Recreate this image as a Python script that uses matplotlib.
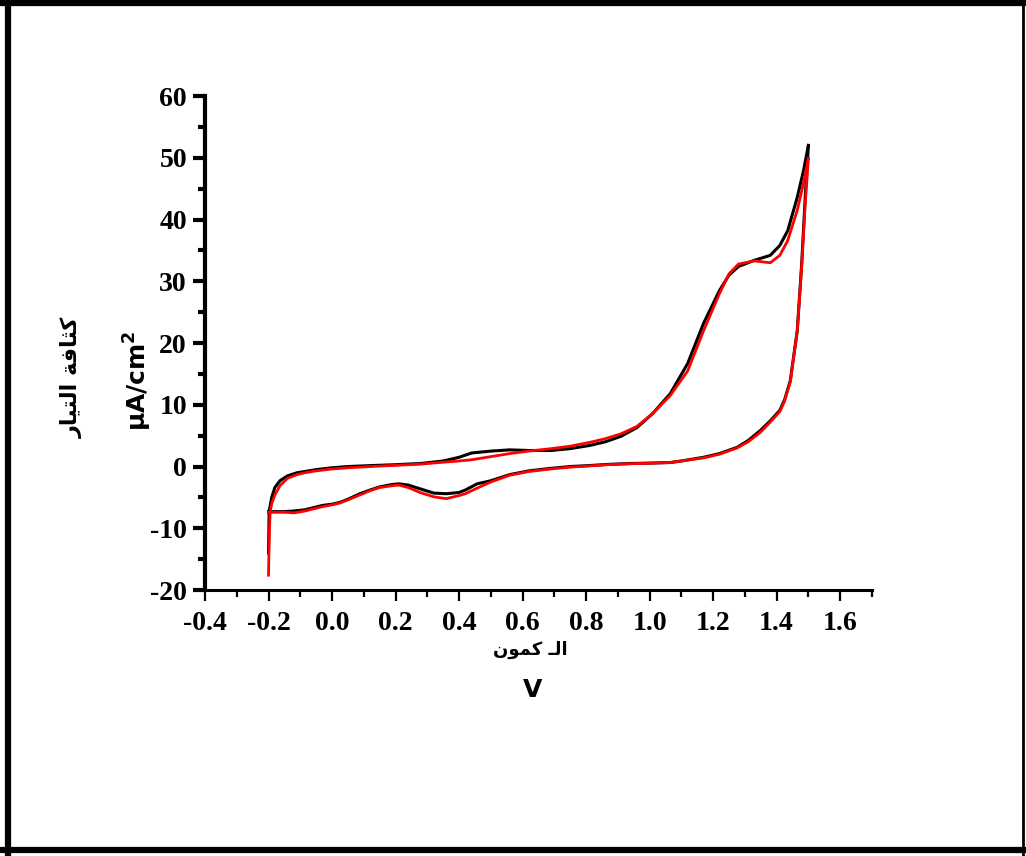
import matplotlib.pyplot as plt
from matplotlib.lines import Line2D
from matplotlib.ticker import MultipleLocator
from matplotlib.font_manager import FontProperties

plt.rcParams['mathtext.fontset'] = 'custom'
plt.rcParams['mathtext.bf'] = 'DejaVu Sans:bold'
plt.rcParams['axes.unicode_minus'] = False

# black cycle: forward (anodic) scan -0.2 -> 1.5 V
v_black_fwd = [-0.2, -0.198, -0.19, -0.18, -0.164, -0.14, -0.11, -0.085, -0.05, 0.0,
               0.05, 0.12, 0.2, 0.28, 0.35, 0.40, 0.44, 0.50, 0.56, 0.62,
               0.69, 0.75, 0.81, 0.86, 0.91, 0.96, 1.01, 1.065, 1.12, 1.17,
               1.22, 1.25, 1.28, 1.33, 1.38, 1.41, 1.435, 1.465, 1.485, 1.5]
i_black_fwd = [-14, -7.3, -5.0, -3.4, -2.3, -1.5, -1.0, -0.8, -0.5, -0.2,
               0.0, 0.15, 0.3, 0.5, 0.9, 1.5, 2.2, 2.5, 2.7, 2.6,
               2.6, 2.9, 3.4, 4.0, 4.9, 6.3, 8.6, 11.8, 16.7, 23.2,
               28.5, 31.0, 32.4, 33.4, 34.2, 35.8, 38.2, 43.6, 48.0, 52.0]
# black cycle: reverse scan 1.5 -> -0.2 V
v_black_rev = [1.5, 1.49, 1.479, 1.465, 1.443, 1.425, 1.41, 1.38, 1.348, 1.31,
               1.275, 1.22, 1.17, 1.10, 1.065, 1.0, 0.94, 0.87, 0.81, 0.75,
               0.687, 0.62, 0.56, 0.50, 0.457, 0.42, 0.40, 0.36, 0.32, 0.277,
               0.24, 0.21, 0.19, 0.15, 0.12, 0.088, 0.05, 0.025, 0.0, -0.03,
               -0.054, -0.085, -0.12, -0.15, -0.2]
i_black_rev = [52, 43.6, 32.9, 22, 13.9, 10.8, 9.1, 7.4, 5.8, 4.2,
               3.1, 2.1, 1.5, 0.9, 0.65, 0.55, 0.5, 0.35, 0.16, 0.0,
               -0.3, -0.7, -1.3, -2.3, -2.8, -3.8, -4.2, -4.4, -4.3, -3.6,
               -3.0, -2.8, -2.9, -3.3, -3.8, -4.4, -5.3, -5.8, -6.1, -6.3,
               -6.6, -7.0, -7.2, -7.3, -7.3]

# red cycle
v_red_fwd = [-0.2, -0.198, -0.195, -0.19, -0.18, -0.164, -0.14, -0.11, -0.085, -0.05,
             0.0, 0.05, 0.12, 0.2, 0.28, 0.35, 0.40, 0.44, 0.50, 0.56,
             0.62, 0.69, 0.75, 0.81, 0.86, 0.91, 0.96, 1.01, 1.065, 1.12,
             1.17, 1.22, 1.25, 1.28, 1.33, 1.38, 1.41, 1.435, 1.465, 1.485, 1.5]
i_red_fwd = [-17.6, -12, -7.4, -6.0, -4.6, -3.1, -1.9, -1.3, -1.0, -0.7,
             -0.4, -0.2, 0.0, 0.2, 0.4, 0.7, 0.9, 1.1, 1.6, 2.1,
             2.5, 2.9, 3.3, 3.9, 4.5, 5.3, 6.5, 8.6, 11.5, 15.5,
             22.0, 28.0, 31.2, 32.8, 33.3, 33.0, 34.2, 36.6, 41.5, 46.0, 49.9]
v_red_rev = [1.5, 1.49, 1.479, 1.465, 1.443, 1.425, 1.41, 1.38, 1.348, 1.31,
             1.275, 1.22, 1.17, 1.10, 1.065, 1.0, 0.94, 0.87, 0.81, 0.75,
             0.687, 0.62, 0.56, 0.50, 0.457, 0.42, 0.40, 0.36, 0.32, 0.277,
             0.24, 0.21, 0.19, 0.15, 0.12, 0.088, 0.05, 0.025, 0.0, -0.03,
             -0.054, -0.085, -0.12, -0.15, -0.2]
i_red_rev = [49.9, 42.5, 32.5, 22, 13.7, 10.6, 8.9, 7.2, 5.5, 4.0,
             3.0, 2.0, 1.4, 0.9, 0.65, 0.55, 0.45, 0.3, 0.1, -0.1,
             -0.4, -0.8, -1.4, -2.5, -3.5, -4.4, -4.7, -5.2, -4.9, -4.2,
             -3.4, -3.0, -3.1, -3.4, -3.9, -4.6, -5.4, -5.9, -6.2, -6.5,
             -6.8, -7.2, -7.5, -7.4, -7.4]

fig = plt.figure(figsize=(10.26, 8.56), dpi=100)
ax = fig.add_axes([0.1998, 0.3107, 0.650, 0.5771])

ax.plot(v_black_fwd, i_black_fwd, color='black', lw=2.2)
ax.plot(v_black_rev, i_black_rev, color='black', lw=2.2)
ax.plot(v_red_fwd, i_red_fwd, color='red', lw=2)
ax.plot(v_red_rev, i_red_rev, color='red', lw=2)

ax.set_xlim(-0.4, 1.7)
ax.set_ylim(-20, 60)
ax.xaxis.set_major_locator(MultipleLocator(0.2))
ax.xaxis.set_minor_locator(MultipleLocator(0.1))
ax.yaxis.set_major_locator(MultipleLocator(10))
ax.yaxis.set_minor_locator(MultipleLocator(5))

ax.spines['top'].set_visible(False)
ax.spines['right'].set_visible(False)
ax.spines['left'].set_linewidth(3)
ax.spines['bottom'].set_linewidth(2.2)
ax.tick_params(axis='y', which='major', length=9, width=3, direction='out', pad=4)
ax.tick_params(axis='y', which='minor', length=5, width=3, direction='out')
ax.tick_params(axis='x', which='major', length=8, width=1.6, direction='out', pad=7)
ax.tick_params(axis='x', which='minor', length=5, width=1.6, direction='out')

tick_font = FontProperties(family='Liberation Serif', weight='bold', size=20)
xticks = [-0.4, -0.2, 0.0, 0.2, 0.4, 0.6, 0.8, 1.0, 1.2, 1.4, 1.6]
yticks = [-20, -10, 0, 10, 20, 30, 40, 50, 60]
ax.set_xticks(xticks)
ax.set_xticklabels(['{:.1f}'.format(t) for t in xticks], fontproperties=tick_font)
ax.set_yticks(yticks)
ax.set_yticklabels([str(t) for t in yticks], fontproperties=tick_font)

# axis titles (arabic written in visual order with presentation forms)
ylabel_ar = '\ufead\ufe8e\ufef4\ufe98\ufedf\ufe8d \ufe94\ufed3\ufe8e\ufe9c\ufedb'
xlabel_ar = '\ufee5\ufeee\ufee4\ufedb \u0640\ufedf\ufe8d'
sans_bold = FontProperties(family='DejaVu Sans', weight='bold', size=18)
fig.text(0.0702, 0.5596, ylabel_ar, rotation=90, ha='center', va='center',
         fontproperties=FontProperties(family='DejaVu Sans', weight='bold', size=16))
fig.text(0.1345, 0.555, 'µA/cm$^\\mathbf{2}$', rotation=90, ha='center', va='center',
         fontproperties=sans_bold)
fig.text(0.5166, 0.2407, xlabel_ar, ha='center', va='center',
         fontproperties=FontProperties(family='DejaVu Sans', weight='bold', size=13))
fig.text(0.5195, 0.194, 'V', ha='center', va='center', fontproperties=sans_bold)

# page frame
fig.add_artist(Line2D([0.0, 1.0], [0.997, 0.997], color='black', lw=4.5))
fig.add_artist(Line2D([0.0078, 0.0078], [0.0, 1.0], color='black', lw=4.5))
fig.add_artist(Line2D([0.0, 1.0], [0.0070, 0.0070], color='black', lw=4.5))
fig.add_artist(Line2D([0.9971, 0.9971], [0.0, 1.0], color='black', lw=2))

plt.savefig('out.png', dpi=100)
